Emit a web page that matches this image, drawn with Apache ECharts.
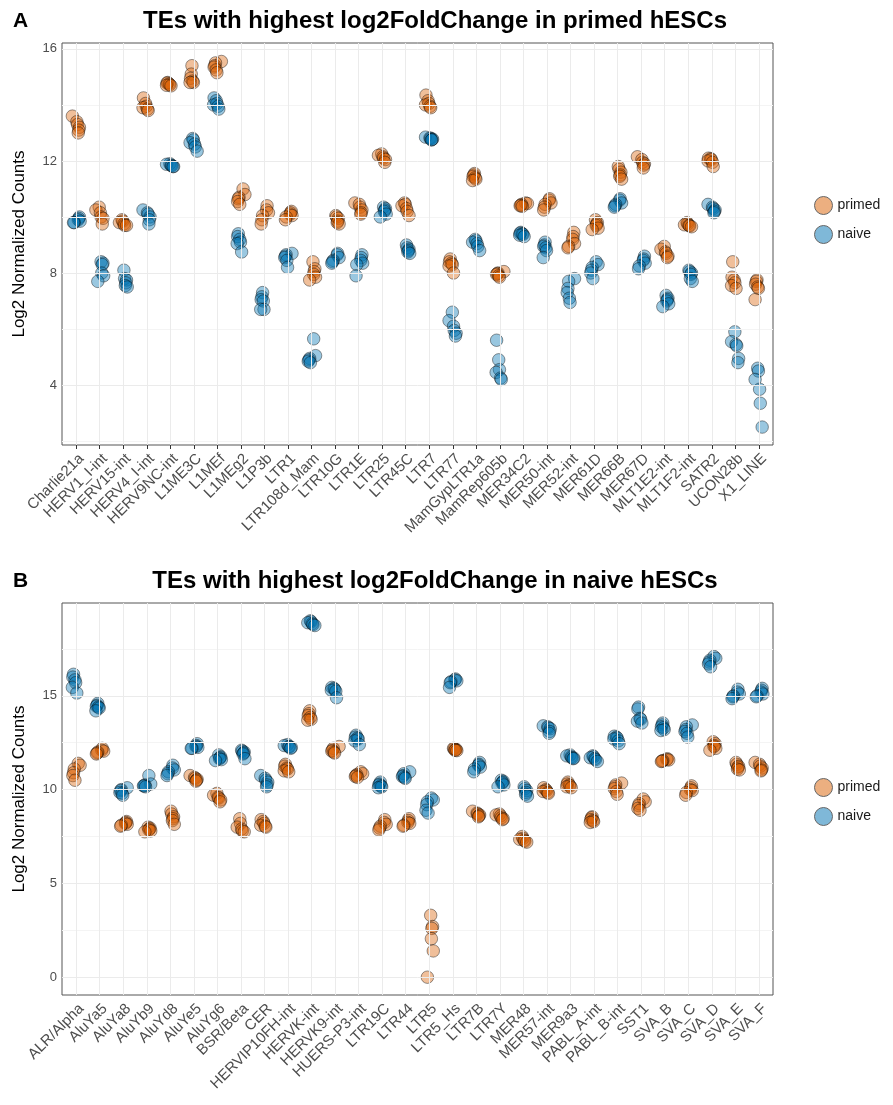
<!DOCTYPE html>
<html>
<head>
<meta charset="utf-8">
<script src="https://cdn.jsdelivr.net/npm/echarts@6/dist/echarts.min.js"></script>
<style>
html,body{margin:0;padding:0;background:#fff;}
#chart{width:893px;height:1105px;}
</style>
</head>
<body>
<div id="chart"></div>
<script>
// ---------------- DATA ----------------
const catsA = ['Charlie21a','HERV1_I-int','HERV15-int','HERV4_I-int','HERV9NC-int','L1ME3C','L1MEf','L1MEg2','L1P3b','LTR1','LTR108d_Mam','LTR10G','LTR1E','LTR25','LTR45C','LTR7','LTR77','MamGypLTR1a','MamRep605b','MER34C2','MER50-int','MER52-int','MER61D','MER66B','MER67D','MLT1E2-int','MLT1F2-int','SATR2','UCON28b','X1_LINE'];
const catsB = ['ALR/Alpha','AluYa5','AluYa8','AluYb9','AluYd8','AluYe5','AluYg6','BSR/Beta','CER','HERVIP10FH-int','HERVK-int','HERVK9-int','HUERS-P3-int','LTR19C','LTR44','LTR5','LTR5_Hs','LTR7B','LTR7Y','MER48','MER57-int','MER9a3','PABL_A-int','PABL_B-int','SST1','SVA_B','SVA_C','SVA_D','SVA_E','SVA_F'];

const primedA = [
[13.6,13.4,13.3,13.2,13.1,13.0],[10.35,10.25,10.15,10.0,9.95,9.75],[9.9,9.85,9.8,9.75,9.7,9.7],
[14.25,14.05,13.95,13.9,13.85,13.8],[14.8,14.78,14.75,14.72,14.7,14.68],[15.4,15.1,14.95,14.85,14.8,14.8],
[15.55,15.5,15.4,15.35,15.25,15.15],[11.0,10.8,10.7,10.65,10.55,10.45],[10.4,10.25,10.15,10.05,9.9,9.75],
[10.2,10.15,10.1,10.05,10.0,9.9],[8.4,8.15,8.05,7.95,7.85,7.75],[10.05,10.0,9.95,9.85,9.8,9.75],
[10.5,10.45,10.35,10.25,10.15,10.1],[12.25,12.2,12.15,12.1,12.05,11.95],[10.5,10.45,10.4,10.3,10.2,10.05],
[14.35,14.15,14.05,14.0,13.95,13.9],[8.5,8.4,8.35,8.3,8.25,8.0],[11.55,11.5,11.45,11.4,11.35,11.3],
[8.05,8.0,7.98,7.95,7.9,7.85],[10.5,10.48,10.45,10.42,10.4,10.38],[10.65,10.6,10.5,10.45,10.35,10.25],
[9.45,9.3,9.2,9.05,8.95,8.9],[9.9,9.8,9.75,9.7,9.6,9.55],[11.8,11.7,11.6,11.5,11.45,11.35],
[12.15,12.05,11.95,11.9,11.85,11.75],[8.95,8.85,8.75,8.7,8.6,8.55],[9.8,9.75,9.72,9.7,9.68,9.65],
[12.1,12.08,12.05,12.0,11.95,11.8],[8.4,7.85,7.75,7.65,7.55,7.45],[7.75,7.7,7.6,7.5,7.45,7.05]
];
const naiveA = [
[10.0,9.95,9.9,9.85,9.8,9.8],[8.4,8.35,8.3,8.0,7.9,7.7],[8.1,7.8,7.75,7.65,7.55,7.5],
[10.25,10.15,10.1,10.0,9.9,9.75],[11.9,11.88,11.85,11.83,11.8,11.8],[12.8,12.75,12.65,12.6,12.5,12.35],
[14.25,14.15,14.05,14.0,13.95,13.85],[9.4,9.3,9.2,9.1,9.05,8.75],[7.3,7.15,7.05,7.0,6.7,6.7],
[8.7,8.65,8.6,8.55,8.45,8.2],[5.65,5.05,4.95,4.9,4.85,4.8],[8.7,8.65,8.55,8.45,8.4,8.35],
[8.65,8.55,8.45,8.35,8.3,7.9],[10.35,10.3,10.25,10.2,10.1,10.0],[9.0,8.9,8.85,8.8,8.75,8.7],
[12.85,12.82,12.8,12.78,12.76,12.75],[6.6,6.3,6.1,5.95,5.85,5.75],[9.2,9.15,9.1,9.05,8.95,8.8],
[5.6,4.9,4.55,4.45,4.25,4.2],[9.45,9.42,9.4,9.38,9.35,9.3],[9.1,9.0,8.95,8.9,8.8,8.55],
[7.8,7.7,7.45,7.3,7.1,6.95],[8.4,8.3,8.2,8.1,8.0,7.8],[10.65,10.6,10.5,10.45,10.4,10.35],
[8.6,8.5,8.45,8.35,8.25,8.15],[7.2,7.1,7.05,7.0,6.9,6.8],[8.1,8.05,8.0,7.95,7.8,7.7],
[10.45,10.35,10.3,10.25,10.2,10.15],[5.9,5.55,5.45,5.4,4.95,4.8],[4.6,4.5,4.2,3.85,3.35,2.5]
];
const primedB = [
[11.4,11.3,11.1,10.9,10.75,10.5],[12.2,12.1,12.05,12.0,11.95,11.9],[8.3,8.25,8.2,8.15,8.1,8.05],
[8.0,7.95,7.9,7.85,7.8,7.75],[8.85,8.7,8.55,8.45,8.35,8.15],[10.75,10.65,10.6,10.55,10.5,10.45],
[9.8,9.7,9.6,9.55,9.45,9.35],[8.45,8.2,8.0,7.9,7.8,7.75],[8.4,8.3,8.2,8.1,8.05,8.0],
[11.35,11.25,11.15,11.1,11.0,10.95],[14.2,14.05,13.95,13.85,13.75,13.7],[12.3,12.2,12.1,12.05,12.0,11.95],
[10.95,10.85,10.8,10.75,10.7,10.65],[8.4,8.25,8.15,8.05,7.95,7.85],[8.45,8.35,8.25,8.2,8.1,8.05],
[3.3,2.7,2.6,2.05,1.4,0.0],[12.2,12.18,12.15,12.12,12.1,12.08],[8.85,8.75,8.7,8.65,8.6,8.55],
[8.7,8.65,8.6,8.5,8.45,8.4],[7.5,7.4,7.35,7.3,7.25,7.2],[10.1,10.0,9.95,9.9,9.85,9.8],
[10.4,10.3,10.25,10.2,10.15,10.1],[8.55,8.5,8.4,8.35,8.3,8.25],[10.35,10.25,10.15,10.05,9.9,9.75],
[9.5,9.35,9.25,9.15,9.0,8.9],[11.65,11.6,11.58,11.55,11.52,11.5],[10.2,10.1,10.0,9.95,9.85,9.7],
[12.55,12.45,12.35,12.3,12.2,12.1],[11.45,11.35,11.25,11.2,11.1,11.05],[11.45,11.35,11.25,11.15,11.05,11.0]
];
const naiveB = [
[16.15,16.0,15.85,15.7,15.45,15.15],[14.6,14.5,14.45,14.4,14.35,14.2],[10.1,10.0,9.95,9.85,9.8,9.7],
[10.75,10.3,10.25,10.2,10.2,10.15],[11.3,11.15,11.05,10.95,10.85,10.75],[12.45,12.35,12.3,12.25,12.2,12.2],
[11.85,11.75,11.7,11.65,11.6,11.55],[12.1,12.05,12.0,11.95,11.9,11.65],[10.75,10.6,10.5,10.4,10.25,10.15],
[12.4,12.35,12.3,12.28,12.25,12.2],[19.0,18.95,18.9,18.85,18.8,18.75],[15.45,15.4,15.35,15.3,15.25,14.9],
[12.9,12.8,12.75,12.7,12.6,12.4],[10.4,10.3,10.25,10.2,10.15,10.1],[10.95,10.85,10.75,10.7,10.65,10.6],
[9.55,9.45,9.35,9.2,8.9,8.75],[15.9,15.85,15.8,15.75,15.7,15.45],[11.45,11.35,11.3,11.2,11.1,10.95],
[10.5,10.45,10.4,10.35,10.25,10.15],[10.15,10.05,9.95,9.85,9.75,9.65],[13.4,13.35,13.3,13.25,13.1,13.0],
[11.85,11.8,11.75,11.7,11.68,11.65],[11.8,11.75,11.7,11.65,11.6,11.5],[12.85,12.8,12.75,12.7,12.6,12.45],
[14.4,14.3,13.8,13.75,13.65,13.55],[13.55,13.45,13.35,13.3,13.2,13.15],[13.45,13.35,13.2,13.1,13.0,12.8],
[17.1,17.0,16.9,16.8,16.7,16.55],[15.35,15.2,15.1,15.0,14.95,14.85],[15.4,15.3,15.2,15.1,15.0,14.95]
];
const yTicksA = [4, 8, 12, 16];
const yMinorA = [2, 6, 10, 14];
const yTicksB = [0, 5, 10, 15];
const yMinorB = [2.5, 7.5, 12.5, 17.5];
const titleA = 'TEs with highest log2FoldChange in primed hESCs';
const titleB = 'TEs with highest log2FoldChange in naive hESCs';
const yName = 'Log2 Normalized Counts';

// fixed jitter pattern (horizontal spread only)
const jitter = [-0.16, 0.09, -0.05, 0.14, -0.11, 0.03, 0.17, -0.02, 0.11, -0.14, 0.06, -0.08];

// ---------------- BUILD ----------------
function pts(vals, shift) {
  const out = [];
  vals.forEach((arr, i) => {
    arr.forEach((v, k) => {
      const j = jitter[(k * 5 + i * 7 + shift) % jitter.length];
      out.push([i + j, v]);
    });
  });
  return out;
}
const FONT = '"Liberation Sans", Arial, Helvetica, sans-serif';
const catIdx = catsA.map((_, i) => i);
const PRIMED = 'rgba(217,95,2,0.5)';
const NAIVE = 'rgba(0,114,178,0.5)';
const BORDER = 'rgba(0,0,0,0.5)';

function xAxisFor(g, cats) {
  return {
    gridIndex: g, type: 'value', min: -0.6, max: 29.6,
    axisLine: { show: false },
    splitLine: { show: false },
    axisTick: { show: true, customValues: catIdx, length: 4, lineStyle: { color: '#333', width: 1 } },
    axisLabel: {
      customValues: catIdx, rotate: 45, margin: 6, fontSize: 15, color: '#4D4D4D', fontFamily: FONT,
      align: 'right', verticalAlign: 'top',
      formatter: v => cats[Math.round(v)]
    }
  };
}
function yAxisFor(g, min, max, ticks) {
  return {
    gridIndex: g, type: 'value', min: min, max: max,
    axisLine: { show: false },
    splitLine: { show: false },
    axisTick: { show: true, customValues: ticks, length: 4, lineStyle: { color: '#333', width: 1 } },
    axisLabel: { customValues: ticks, fontSize: 13, color: '#4D4D4D', margin: 5, fontFamily: FONT },
    name: yName, nameLocation: 'middle', nameGap: 34,
    nameTextStyle: { fontSize: 17, color: '#000', fontFamily: FONT }
  };
}
function gridSeries(g, major, minor) {
  const data = [];
  minor.forEach(v => data.push({ yAxis: v, lineStyle: { color: '#F4F4F4', width: 1 } }));
  major.forEach(v => data.push({ yAxis: v, lineStyle: { color: '#EBEBEB', width: 1 } }));
  catIdx.forEach(v => data.push({ xAxis: v, lineStyle: { color: '#EBEBEB', width: 1 } }));
  return {
    type: 'scatter', xAxisIndex: g, yAxisIndex: g, data: [], z: 1, silent: true,
    markLine: { silent: true, symbol: ['none', 'none'], label: { show: false }, animation: false,
      lineStyle: { type: 'solid' }, emphasis: { disabled: true }, data: data }
  };
}
function scatter(name, g, vals, color, shift) {
  return {
    name: name, type: 'scatter', xAxisIndex: g, yAxisIndex: g, z: 3,
    symbol: 'circle', symbolSize: 12.5,
    itemStyle: { color: color, borderColor: BORDER, borderWidth: 1 },
    data: pts(vals, shift)
  };
}
const legendItems = [
  { name: 'primed', itemStyle: { color: '#ECAF80', borderColor: '#666', borderWidth: 1, opacity: 1 } },
  { name: 'naive', itemStyle: { color: '#7FB8D8', borderColor: '#666', borderWidth: 1, opacity: 1 } }
];
const legendBase = {
  orient: 'vertical', left: 809, itemWidth: 18, itemHeight: 18, itemGap: 10, icon: 'circle',
  selectedMode: false, textStyle: { fontSize: 14, color: '#1A1A1A', fontFamily: FONT }, data: legendItems
};
const titleStyle = { fontSize: 24, fontWeight: 'bold', color: '#000', fontFamily: FONT };
const tagStyle = { fontSize: 21, fontWeight: 'bold', color: '#000', fontFamily: FONT };

const option = {
  animation: false,
  backgroundColor: '#fff',
  textStyle: { fontFamily: FONT },
  title: [
    { text: 'A', left: 8, top: 6, textStyle: tagStyle },
    { text: titleA, left: 430, textAlign: 'center', top: 4, textStyle: titleStyle },
    { text: 'B', left: 8, top: 566, textStyle: tagStyle },
    { text: titleB, left: 430, textAlign: 'center', top: 564, textStyle: titleStyle }
  ],
  legend: [
    Object.assign({}, legendBase, { top: 191 }),
    Object.assign({}, legendBase, { top: 773 })
  ],
  grid: [
    { left: 62, top: 43, width: 711, height: 402, show: true, borderColor: '#555', borderWidth: 1, backgroundColor: 'transparent' },
    { left: 62, top: 603, width: 711, height: 392, show: true, borderColor: '#555', borderWidth: 1, backgroundColor: 'transparent' }
  ],
  xAxis: [xAxisFor(0, catsA), xAxisFor(1, catsB)],
  yAxis: [yAxisFor(0, 1.86, 16.21, yTicksA), yAxisFor(1, -0.95, 19.95, yTicksB)],
  series: [
    gridSeries(0, yTicksA, yMinorA),
    gridSeries(1, yTicksB, yMinorB),
    scatter('primed', 0, primedA, PRIMED, 0),
    scatter('naive', 0, naiveA, NAIVE, 3),
    scatter('primed', 1, primedB, PRIMED, 1),
    scatter('naive', 1, naiveB, NAIVE, 4)
  ]
};
const chart = echarts.init(document.getElementById('chart'), null, { renderer: 'canvas' });
chart.setOption(option);
</script>
</body>
</html>
